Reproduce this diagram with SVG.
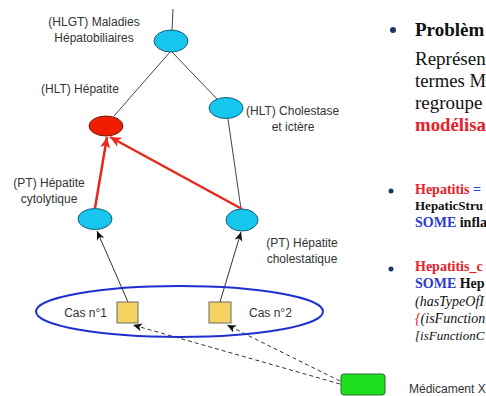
<svg xmlns="http://www.w3.org/2000/svg" width="486" height="396" viewBox="0 0 486 396">
<defs>
<style>
.lbl{font-family:"Liberation Sans",Arial,sans-serif;font-size:12px;fill:#333}
.cy{fill:#16c6ee;stroke:#17607a;stroke-width:1}
.rd{fill:#f01e00;stroke:#7a1a08;stroke-width:1}
.sq{fill:#f6d262;stroke:#6a6a6a;stroke-width:1}
.ln{stroke:#444;stroke-width:1;fill:none}
.ar{stroke:#333;stroke-width:1;fill:none;marker-end:url(#ab)}
.da{stroke:#333;stroke-width:1;fill:none;stroke-dasharray:4 3;marker-end:url(#ab)}
.ra{stroke:#e8281e;stroke-width:2.5;fill:none;marker-end:url(#ar)}
.tm{font-family:"Liberation Serif","Times New Roman",serif}
.big{font-size:19px;fill:#111}
.sm{font-size:14px;font-weight:bold}
.r{fill:#e8202a}
.b{fill:#2a3ad0}
.k{fill:#111}
.bul{fill:#1a3566}
</style>
<marker id="ab" markerUnits="userSpaceOnUse" markerWidth="10" markerHeight="10" viewBox="0 0 10 10" refX="9" refY="5" orient="auto">
<path d="M0,1 L9,5 L0,9 L2.5,5 z" fill="#111"/>
</marker>
<marker id="ar" markerUnits="userSpaceOnUse" markerWidth="12" markerHeight="12" viewBox="0 0 12 12" refX="11" refY="6" orient="auto">
<path d="M0,1 L11,6 L0,11 L3,6 z" fill="#e8281e"/>
</marker>
</defs>
<rect width="486" height="396" fill="#fff"/>

<g id="connectors">
<line class="ln" x1="173" y1="9" x2="172" y2="30"/>
<line class="ln" x1="170" y1="52" x2="114" y2="116"/>
<line class="ln" x1="172" y1="52" x2="218" y2="100"/>
<line class="ln" x1="228" y1="119" x2="241" y2="209"/>
<line class="ra" x1="95" y1="208" x2="107" y2="137"/>
<line class="ra" x1="242" y1="209" x2="110" y2="137"/>
<line class="ar" x1="128" y1="302" x2="97" y2="231"/>
<line class="ar" x1="220" y1="302" x2="241" y2="232"/>
<line class="da" x1="340" y1="384" x2="133" y2="325"/>
<line class="da" x1="340" y1="381" x2="227" y2="325"/>
</g>

<g id="hlgt">
<ellipse class="cy" cx="171" cy="41" rx="17" ry="11"/>
<text class="lbl" x="94" y="26" text-anchor="middle">(HLGT) Maladies</text>
<text class="lbl" x="94" y="42" text-anchor="middle">Hépatobiliaires</text>
</g>
<g id="hlt-hepatite">
<ellipse class="rd" cx="106" cy="126" rx="17" ry="10"/>
<text class="lbl" x="41" y="93">(HLT) Hépatite</text>
</g>
<g id="hlt-cholestase">
<ellipse class="cy" cx="226" cy="108" rx="17" ry="10.5"/>
<text class="lbl" x="246" y="115">(HLT) Cholestase</text>
<text class="lbl" x="293" y="131" text-anchor="middle">et ictère</text>
</g>
<g id="pt-cytolytique">
<ellipse class="cy" cx="95" cy="219" rx="17" ry="10.5"/>
<text class="lbl" x="49" y="187" text-anchor="middle">(PT) Hépatite</text>
<text class="lbl" x="49" y="203" text-anchor="middle">cytolytique</text>
</g>
<g id="pt-cholestatique">
<ellipse class="cy" cx="242" cy="220" rx="16" ry="11"/>
<text class="lbl" x="302" y="247" text-anchor="middle">(PT) Hépatite</text>
<text class="lbl" x="302" y="263" text-anchor="middle">cholestatique</text>
</g>
<g id="cas-group">
<ellipse cx="179.5" cy="311.5" rx="143.5" ry="25.5" fill="none" stroke="#1f2fcf" stroke-width="2"/>
</g>
<g id="cas1">
<rect class="sq" x="117" y="302" width="21" height="21"/>
<text class="lbl" x="107" y="317" text-anchor="end">Cas n°1</text>
</g>
<g id="cas2">
<rect class="sq" x="209" y="302" width="22" height="21"/>
<text class="lbl" x="249" y="317">Cas n°2</text>
</g>
<g id="medicament">
<rect x="341" y="374" width="44" height="21" rx="3" fill="#1ee01e" stroke="#2a6a2a" stroke-width="1"/>
<text class="lbl" x="409" y="393">Médicament X</text>
</g>

<g id="text-panel">
<circle class="bul" cx="393" cy="30" r="3"/>
<text class="tm big" x="415" y="36" font-weight="bold">Problèm</text>
<text class="tm big" x="415" y="65">Représen</text>
<text class="tm big" x="415" y="87" textLength="71" lengthAdjust="spacingAndGlyphs">termes M</text>
<text class="tm big" x="415" y="109">regroupe</text>
<text class="tm big r" x="415" y="131" font-weight="bold" textLength="71" lengthAdjust="spacingAndGlyphs">modélisa</text>

<circle class="bul" cx="391" cy="191" r="2.5"/>
<text class="tm sm" x="415" y="194"><tspan class="r">Hepatitis</tspan><tspan class="b"> =</tspan></text>
<text class="tm k" x="415" y="210" font-size="13" font-weight="bold">HepaticStru</text>
<text class="tm sm" x="415" y="227"><tspan class="b">SOME</tspan><tspan class="k"> infla</tspan></text>

<circle class="bul" cx="391" cy="269" r="2.5"/>
<text class="tm sm r" x="415" y="271">Hepatitis_c</text>
<text class="tm sm" x="415" y="288"><tspan class="b">SOME</tspan><tspan class="k"> Hep</tspan></text>
<text class="tm k" x="415" y="306" font-size="14" font-style="italic">(hasTypeOfI</text>
<text class="tm k" x="415" y="323" font-size="14" font-style="italic"><tspan class="r">{</tspan>(isFunction</text>
<text class="tm k" x="415" y="340" font-size="13" font-style="italic">[isFunctionC</text>
</g>
</svg>
